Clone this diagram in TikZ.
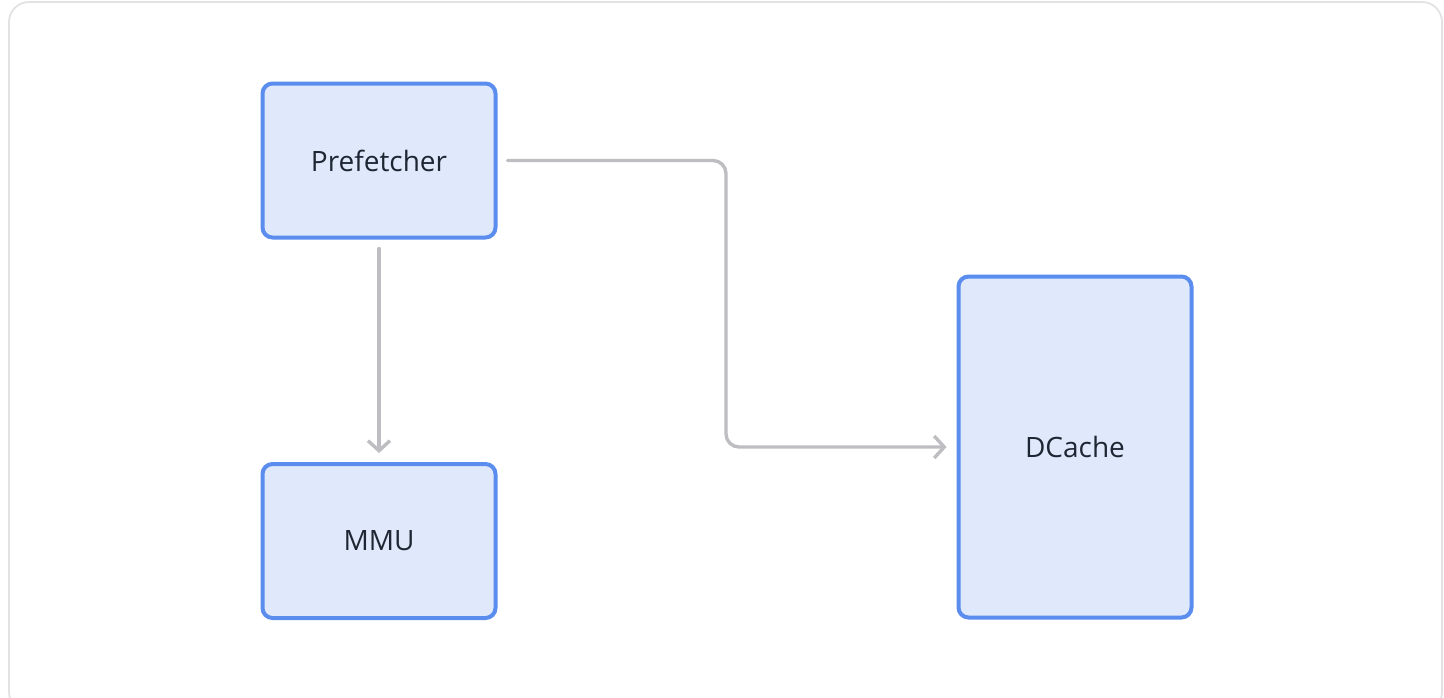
\documentclass[tikz,border=0pt]{standalone}
\usepackage{fontspec}
\setmainfont{Open Sans}
\usetikzlibrary{arrows.meta}
\definecolor{boxblue}{HTML}{5B8DEF}
\definecolor{boxfill}{HTML}{E0E9FB}
\definecolor{linegray}{HTML}{BDBDC2}
\definecolor{framegray}{HTML}{E2E2E2}
\definecolor{textdark}{HTML}{1F2633}
\tikzset{
  blk/.style={draw=boxblue, fill=boxfill, line width=4pt, rounded corners=10pt,
    minimum width=233pt, text=textdark, font=\fontsize{28pt}{32pt}\selectfont, inner sep=0pt},
  conn/.style={draw=linegray, line width=3.4pt, line cap=round, line join=round, rounded corners=13pt,
    -{Straight Barb[length=10pt,width=22pt,line width=3.4pt]}}
}
\begin{document}
\begin{tikzpicture}[x=1pt,y=-1pt]
\useasboundingbox (0,0) rectangle (1444,697);
\begin{scope}
\clip (0,0) rectangle (1444,697);
\draw[framegray, line width=1.8pt, rounded corners=20pt] (9,2) rectangle (1442,712);
\end{scope}
\node[blk, minimum height=154pt] (pre) at (379,160.5) {Prefetcher};
\node[blk, minimum height=154pt] (mmu) at (379,541) {MMU};
\node[blk, minimum height=341pt] (dc) at (1075,447) {DCache};
\coordinate (bend) at (726,160.5);
\draw[conn] ([yshift=-9pt]pre.south) -- ([yshift=9pt]mmu.north);
\draw[conn] ([xshift=10pt]pre.east) -- (bend) -- (bend |- dc.west) -- ([xshift=-10pt]dc.west);
\end{tikzpicture}
\end{document}
